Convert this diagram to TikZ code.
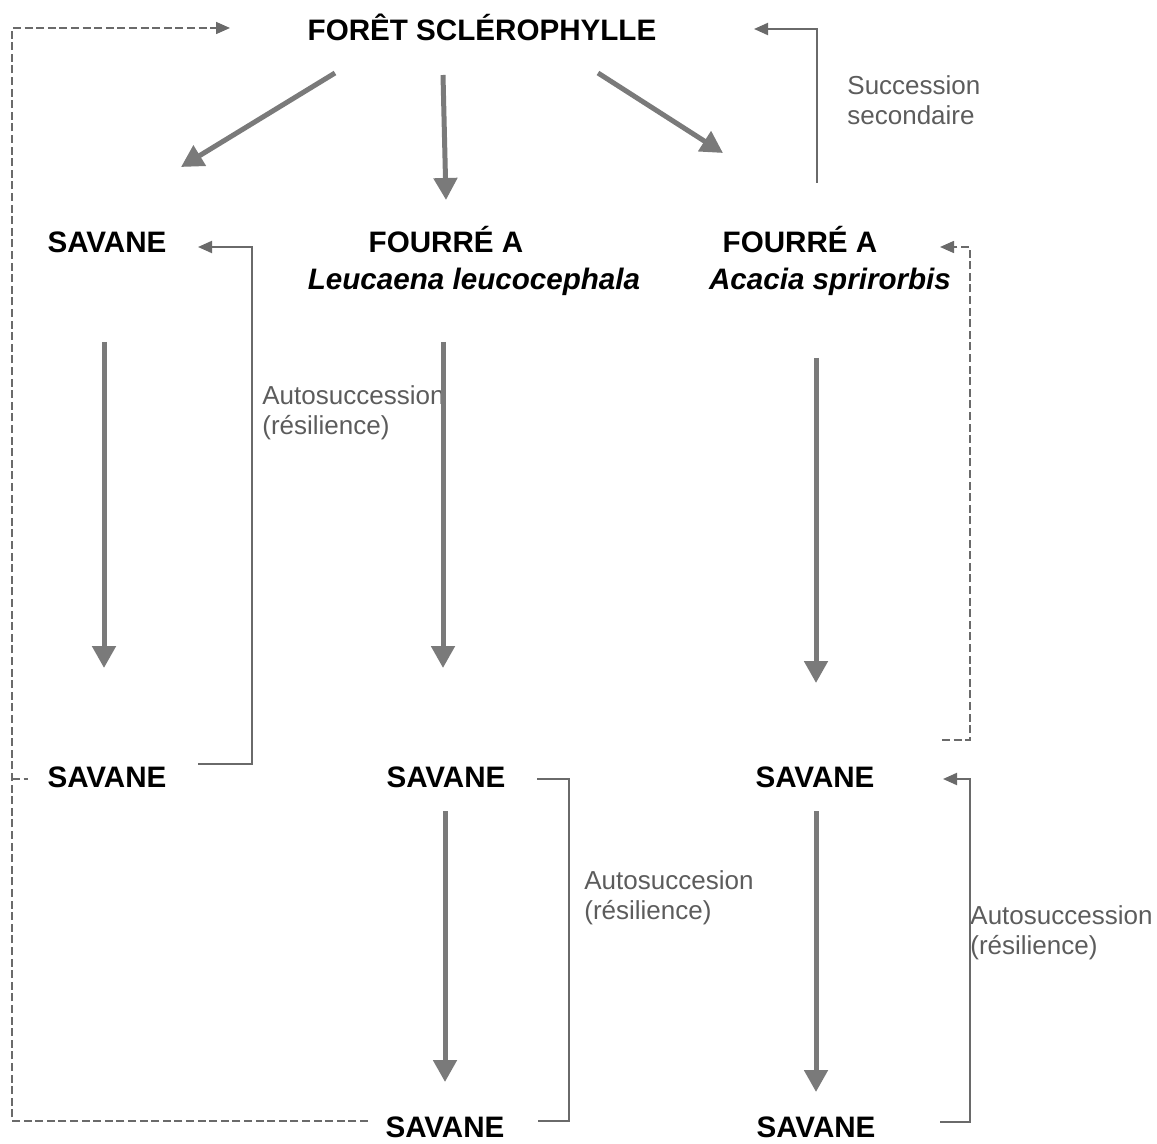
\documentclass[tikz,border=0pt]{standalone}
\usepackage{fontspec}
\setmainfont{Liberation Sans}
\usetikzlibrary{arrows.meta,calc}
\definecolor{arrowgray}{HTML}{7A7A7A}
\definecolor{linegray}{HTML}{6A6A6A}
\definecolor{textgray}{HTML}{5C5C5C}
\begin{document}
\begin{tikzpicture}[x=0.5pt,y=-0.5pt,
  title/.style={font=\fontsize{14.8}{17}\selectfont\bfseries, inner sep=0pt, anchor=base},
  species/.style={title, font=\fontsize{14.8}{17}\selectfont\bfseries\itshape},
  note/.style={font=\fontsize{13}{15}\selectfont, text=textgray, inner sep=0pt, anchor=north west, align=left},
  bigarrow/.style={draw=arrowgray, line width=2.5pt, -{Triangle[length=11pt,width=11.5pt]}},
  bracket/.style={draw=linegray, line width=1pt},
  bracketarrow/.style={bracket, -{Triangle[length=7pt,width=6pt]}},
  dashline/.style={draw=linegray, line width=0.8pt, dash pattern=on 4pt off 1.8pt},
  dasharrow/.style={dashline, -{Triangle[length=7pt,width=6pt]}},
]
\useasboundingbox (0,0) rectangle (1157,1144);

% titles
\node[title] (foret) at (482,41) {FORÊT SCLÉROPHYLLE};
\node[title] (sav1) at (107,253) {SAVANE};
\node[title] (four1) at (446,253) {FOURRÉ A};
\node[species] (leu) at (474,290) {Leucaena leucocephala};
\node[title] (four2) at (800,253) {FOURRÉ A};
\node[species] (aca) at (830,290) {Acacia sprirorbis};
\node[title] (sav2) at (107,787) {SAVANE};
\node[title] (savm2) at (446,787) {SAVANE};
\node[title] (savr2) at (815,787) {SAVANE};
\node[title] (savm3) at (445,1137) {SAVANE};
\node[title] (savr3) at (816,1137) {SAVANE};

% notes
\node[note] (n1) at (262,385) {Autosuccession\\(résilience)};
\node[note] (n2) at (847,75) {Succession\\secondaire};
\node[note] (n3) at (584,870) {Autosuccesion\\(résilience)};
\node[note] (n4) at (970,905) {Autosuccession\\(résilience)};

% thick arrows from the forest
\draw[bigarrow] ($(foret.base)+(-147,32)$) -- ($(sav1.base)+(74,-86)$);
\draw[bigarrow] ($(foret.base)+(-39,34)$) -- ($(four1.base)+(0,-53)$);
\draw[bigarrow] ($(foret.base)+(116,32)$) -- ($(four2.base)+(-77,-100)$);

% thick vertical arrows
\draw[bigarrow] ($(sav1.base)+(-3,89)$) -- ($(sav2.base)+(-3,-119)$);
\draw[bigarrow] ($(four1.base)+(-3,89)$) -- ($(savm2.base)+(-3,-119)$);
\draw[bigarrow] ($(four2.base)+(16,105)$) -- ($(savr2.base)+(1,-104)$);
\draw[bigarrow] ($(savm2.base)+(-1,24)$) -- ($(savm3.base)+(0,-55)$);
\draw[bigarrow] ($(savr2.base)+(1,24)$) -- ($(savr3.base)+(0,-45)$);

% brackets
\draw[bracketarrow] ($(four2.base)+(17,-70)$) |- ($(foret.base)+(272,-12)$);
\draw[bracketarrow] ($(sav2.base)+(91,-23)$) -- ++(54,0) |- ($(sav1.base)+(91,-6)$);
\draw[bracket] ($(savm2.base)+(91,-8)$) -- ++(32,0) |- ($(savm3.base)+(93,-16)$);
\draw[bracketarrow] ($(savr3.base)+(124,-15)$) -- ++(30,0) |- ($(savr2.base)+(128,-8)$);

% dashed connectors
\draw[dasharrow] ($(savr2.base)+(127,-47)$) -- ++(28,0) |- ($(four2.base)+(140,-6)$);
\draw[dasharrow] ($(savm3.base)+(-77,-16)$) -| ($(foret.base)+(-470,-13)$) -- ($(foret.base)+(-252,-13)$);
\draw[dashline] ($(sav2.base)+(-95,-8)$) -- ($(sav2.base)+(-79,-8)$);
\end{tikzpicture}
\end{document}
